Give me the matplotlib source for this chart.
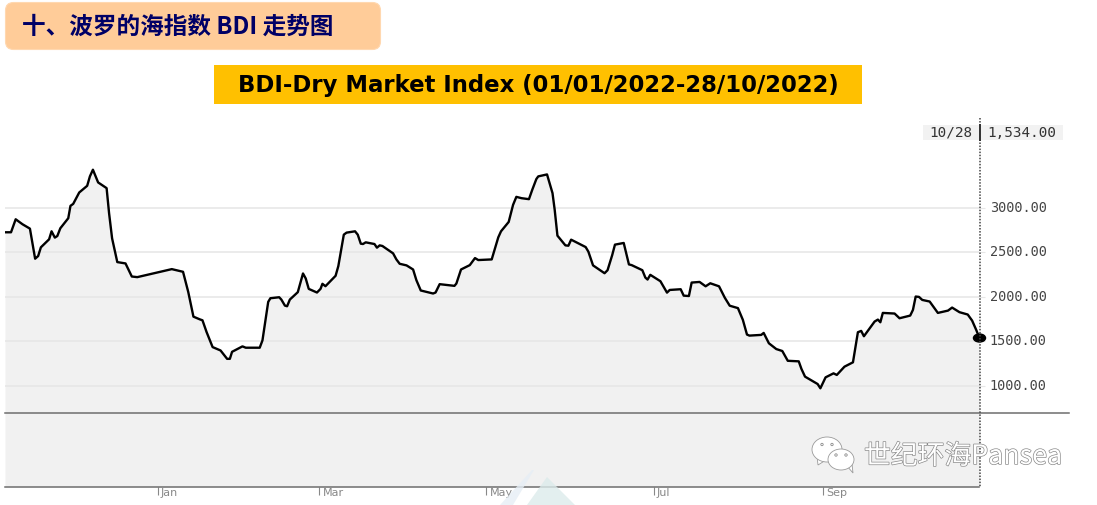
import matplotlib
matplotlib.use("Agg")
import matplotlib.pyplot as plt
import matplotlib.patheffects as pe
from matplotlib.patches import Ellipse, FancyBboxPatch, Polygon, Rectangle
from matplotlib.transforms import ScaledTranslation

# days counted from 01/01/2022
days = [-55.8, -53.6, -51.9, -49.4, -46.7, -44.8, -43.7, -42.7, -39.7, -38.8, -37.6, -36.7, -35.6, -32.7,
        -31.9, -30.9, -28.7, -25.8, -24.8, -23.7, -21.8, -18.7, -17.8, -16.7, -14.8, -11.8, -9.5, -7.5,
        5.1, 9.2, 11.1, 13.0, 15.3, 16.3, 17.8, 20.0, 22.9, 25.3, 26.3, 27.1, 30.9, 32.1, 37.2, 38.2,
        40.3, 41.1, 44.3, 45.1, 46.4, 47.2, 48.2, 51.1, 53.0, 54.0, 55.1, 58.1, 59.4, 60.1, 61.2, 64.9,
        65.9, 67.9, 68.9, 72.0, 73.0, 74.1, 74.9, 75.9, 79.1, 80.0, 81.0, 82.0, 85.9, 87.1, 88.3, 90.8,
        93.2, 94.4, 96.0, 100.5, 101.4, 102.9, 108.3, 109.0, 110.7, 113.9, 115.8, 117.0, 121.9, 122.9,
        124.3, 125.3, 128.1, 129.7, 130.9, 132.8, 135.5, 136.7, 138.2, 138.9, 142.1, 144.1, 144.9, 145.9,
        148.8, 149.9, 150.9, 156.2, 157.2, 158.9, 161.3, 163.1, 164.2, 165.9, 166.9, 170.1, 172.0, 173.0,
        176.9, 178.0, 178.8, 179.8, 183.5, 185.9, 186.9, 190.9, 192.0, 193.9, 194.9, 197.8, 200.0, 201.7,
        204.9, 207.0, 208.8, 211.8, 213.6, 215.1, 216.0, 220.3, 221.2, 223.1, 225.8, 228.0, 230.0, 234.0,
        235.0, 236.3, 239.2, 240.9, 241.9, 243.8, 246.7, 247.9, 250.7, 253.8, 255.6, 256.8, 257.8, 261.7,
        262.9, 263.8, 264.7, 269.0, 270.8, 274.7, 275.7, 276.7, 277.9, 279.1, 281.8, 284.8, 288.5, 290.0,
        292.7, 295.7, 297.3, 298.8, 300.0]
bdi = [2722, 2722, 2868, 2812, 2763, 2425, 2455, 2553, 2643, 2733, 2662, 2680, 2767, 2880,
       3019, 3041, 3169, 3244, 3350, 3425, 3282, 3218, 2936, 2654, 2387, 2372, 2225, 2218,
       2308, 2278, 2052, 1774, 1744, 1733, 1601, 1432, 1394, 1300, 1300, 1379, 1440, 1425, 1425, 1507,
       1940, 1981, 1992, 1966, 1898, 1891, 1966, 2049, 2259, 2203, 2086, 2045, 2086, 2143, 2116, 2233,
       2342, 2695, 2718, 2733, 2695, 2594, 2590, 2609, 2590, 2549, 2575, 2568, 2485, 2417, 2368, 2350,
       2304, 2184, 2068, 2034, 2045, 2139, 2120, 2146, 2304, 2353, 2432, 2410, 2417, 2522,
       2665, 2733, 2838, 3030, 3120, 3105, 3094, 3199, 3320, 3350, 3372, 3162, 2974, 2684,
       2575, 2571, 2639, 2556, 2504, 2350, 2300, 2262, 2296, 2466, 2583, 2602, 2361, 2353,
       2296, 2213, 2191, 2244, 2172, 2044, 2074, 2082, 2010, 2006, 2157, 2164, 2115, 2149,
       2115, 1987, 1897, 1870, 1738, 1573, 1561, 1569, 1591, 1475, 1410, 1388, 1278, 1272,
       1186, 1100, 1047, 1017, 969, 1092, 1137, 1119, 1212, 1261, 1599, 1614, 1554, 1719,
       1741, 1711, 1816, 1809, 1756, 1786, 1850, 2000, 1996, 1962, 1944, 1816, 1842, 1876,
       1824, 1798, 1730, 1625, 1534]

y_ticks = [1000, 1500, 2000, 2500, 3000]
month_ticks = [0, 59, 120, 181, 243]
month_labels = ["Jan", "Mar", "May", "Jul", "Sep"]

title_cn = "十、波罗的海指数 BDI 走势图"
title_en = "BDI-Dry Market Index (01/01/2022-28/10/2022)"
last_date = "10/28"
last_value = "1,534.00"
watermark = "世纪环海Pansea"

W, H = 1097, 505
fig = plt.figure(figsize=(W / 100, H / 100), dpi=100, facecolor="white")

# main chart, px 5-979.5 across and px 118-487 down
ax = fig.add_axes([5 / W, (H - 487) / H, 974.5 / W, 369 / H])
ax.set_xlim(-55.8, 300)
ax.set_ylim(-140, 4006)
ax.fill_between(days, bdi, -140, color="#f1f1f1", lw=0)
ax.plot(days, bdi, color="black", lw=1.7, solid_joinstyle="round", zorder=3)
ax.add_patch(Ellipse((days[-1], bdi[-1]), 4.4, 90, color="black", clip_on=False, zorder=4))

ax.grid(axis="y", color="#e6e6e6", lw=1.1)
ax.axhline(691, xmin=0, xmax=1064.5 / 974.5, color="#6e6e6e", lw=1.1, clip_on=False, zorder=2)

ax.yaxis.tick_right()
ax.set_yticks(y_ticks, [f"{v:.2f}" for v in y_ticks], family="DejaVu Sans Mono", fontsize=9.75, color="#444444")
ax.tick_params(axis="y", length=4.5, width=0.8, color="#e6e6e6", pad=3)
for lab in ax.get_yticklabels():
    lab.set_transform(lab.get_transform() + ScaledTranslation(0, 1.5 / 100, fig.dpi_scale_trans))
ax.set_xticks(month_ticks, month_labels, fontsize=8, color="#888888", ha="left")
ax.tick_params(axis="x", length=6, width=0.8, color="#888888", pad=-5.5)
for lab in ax.get_xticklabels():
    lab.set_transform(lab.get_transform() + ScaledTranslation(3 / 100, 0, fig.dpi_scale_trans))

for side in ["top", "left", "right"]:
    ax.spines[side].set_visible(False)
ax.spines["bottom"].set_color("#6e6e6e")
ax.spines["bottom"].set_linewidth(1.1)

# headers, last value tag and watermark, in pixels
over = fig.add_axes([0, 0, 1, 1], zorder=5)
over.set_xlim(0, W)
over.set_ylim(H, 0)
over.axis("off")

over.plot([979.5, 979.5], [118, 487], color="#444444", lw=1.1, linestyle=(0, (1, 1)), dash_capstyle="butt", zorder=1)

over.add_patch(FancyBboxPatch((12, 9), 362, 34, boxstyle="round,pad=6.5,rounding_size=8", fc="#FFCC99", ec="#FFD8B0", lw=0.8))
over.text(22, 27, title_cn, family=["Noto Sans CJK SC", "DejaVu Sans"], fontweight="bold", fontsize=17,
          color="#000066", va="center", ha="left")

over.add_patch(Rectangle((214, 65), 648, 39, fc="#FFC000", lw=0))
over.text(538, 85.5, title_en, family="DejaVu Sans", fontweight="bold", fontsize=16.4, color="black",
          va="center", ha="center")

over.add_patch(Rectangle((923, 125), 140, 15, fc="#f2f2f2", lw=0, zorder=1))
over.plot([979.5, 979.5], [125, 140], color="#222222", lw=1.3, zorder=2)
over.text(929, 137, last_date, family="DejaVu Sans Mono", fontsize=10.4, color="#333333", va="baseline", ha="left", zorder=3)
over.text(987, 137, last_value, family="DejaVu Sans Mono", fontsize=10.4, color="#333333", va="baseline", ha="left", zorder=3)

# faint logo at the bottom edge
over.add_patch(Polygon([(547, 477), (575, 505), (527, 505)], fc="#dcebeb", lw=0, alpha=0.8))
over.add_patch(Polygon([(532, 470), (534, 470), (513, 505), (500, 505)], fc="#e6eef5", lw=0, alpha=0.8))

# wechat icon
over.add_patch(Polygon([(817, 456), (818, 465), (826, 460)], fc="white", ec="#9a9a9a", lw=0.6))
over.add_patch(Ellipse((827, 449.5), 30, 25, fc="white", ec="#9a9a9a", lw=0.6))
over.add_patch(Polygon([(847, 466), (853, 473), (852, 464)], fc="white", ec="#9a9a9a", lw=0.6))
over.add_patch(Ellipse((841, 459.5), 26, 21, fc="white", ec="#9a9a9a", lw=0.6))
for ex, ey in [(822, 444.5), (832, 444.5), (836, 455), (846, 455)]:
    over.add_patch(Ellipse((ex, ey), 2.4, 2.4, fc="white", ec="#8a8a8a", lw=0.6))

wm = over.text(864, 456.5, watermark, family=["Noto Sans CJK SC", "DejaVu Sans"], fontsize=19.3, color="white",
               va="center", ha="left")
wm.set_path_effects([pe.withStroke(linewidth=1.0, foreground="#8a8a8a")])

fig.savefig("out.png", dpi=100)
